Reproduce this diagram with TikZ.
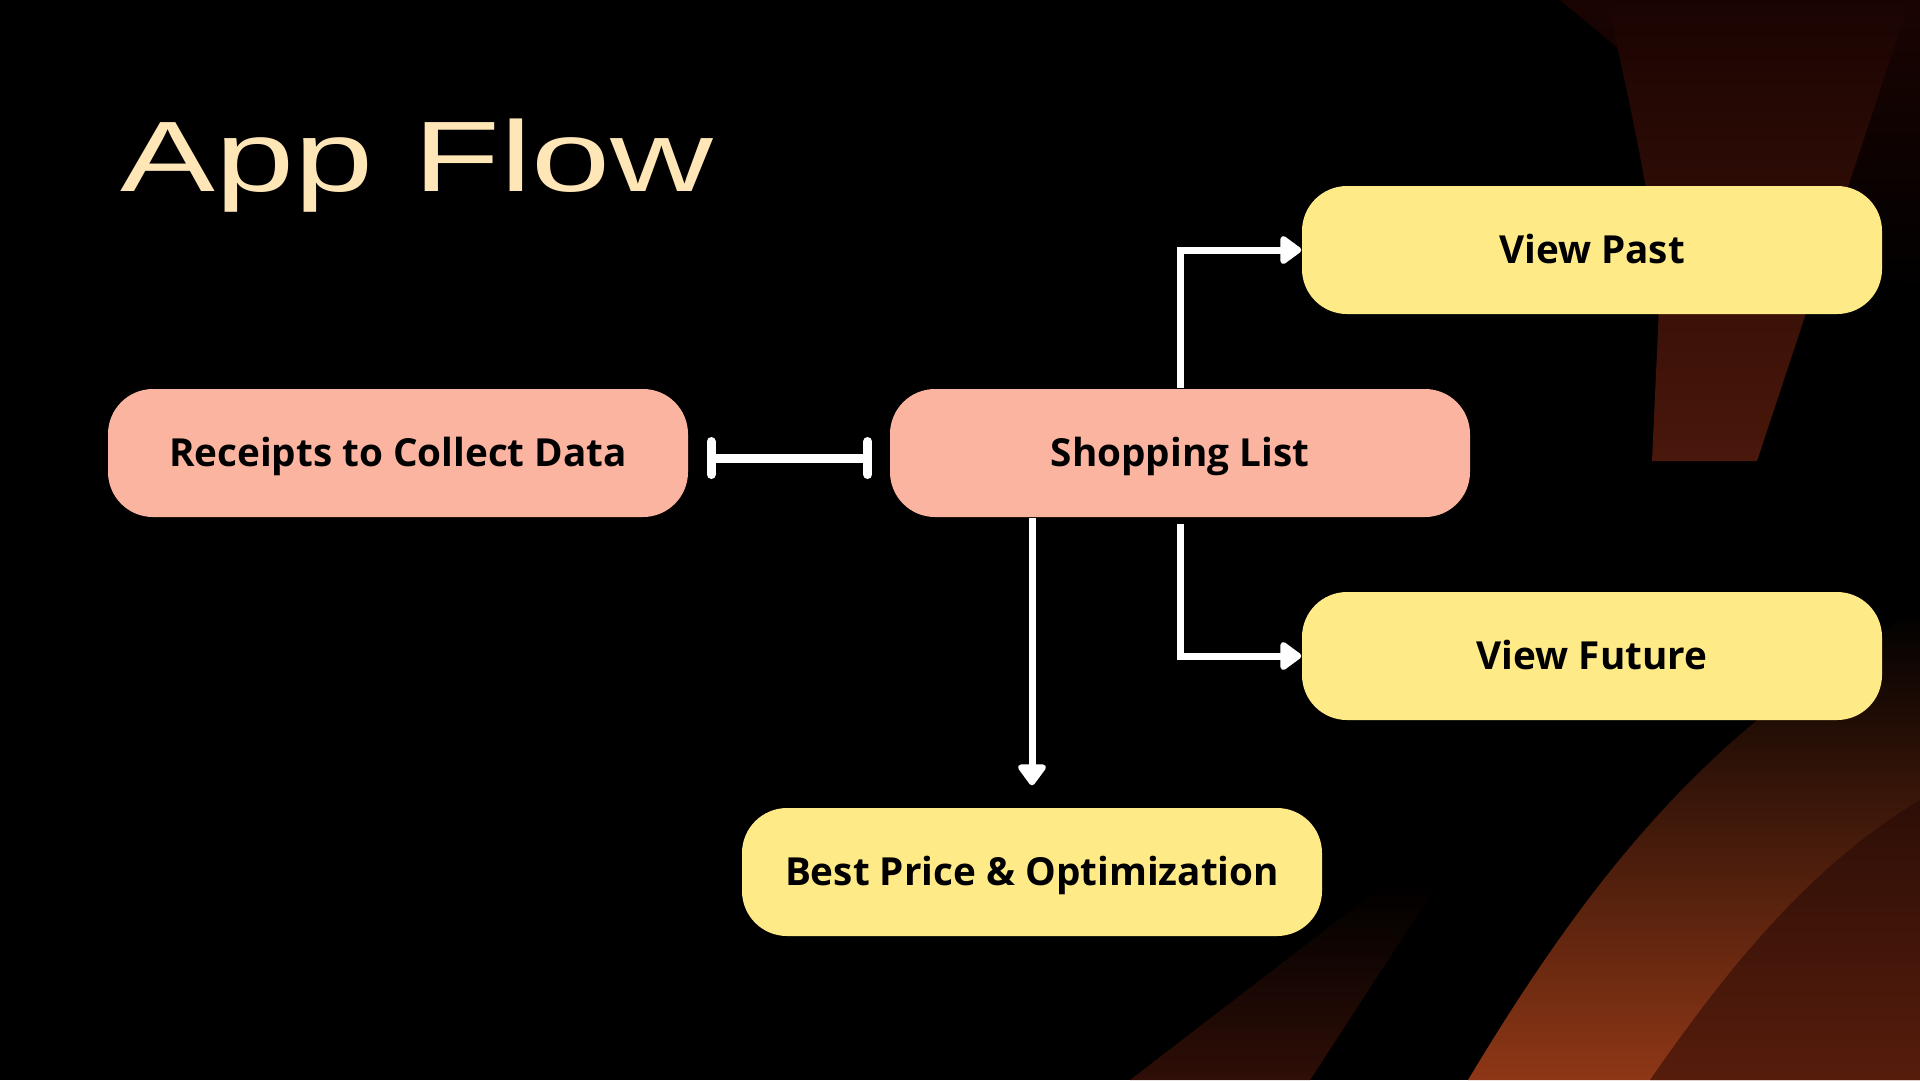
\documentclass[tikz,border=0pt]{standalone}
\usepackage{fontspec}
\setmainfont{Open Sans}
\newfontfamily\titlefont[FakeStretch=1.42]{Liberation Sans}
\usepackage{tikz}
\usetikzlibrary{arrows.meta,calc}

\definecolor{salmon}{HTML}{FBB4A0}
\definecolor{butter}{HTML}{FFEA88}
\definecolor{cream}{HTML}{FFE6B6}
\definecolor{rust}{HTML}{8E3716}
\definecolor{ember}{HTML}{4A170B}
\definecolor{soot}{HTML}{1A0402}

\begin{document}
\begin{tikzpicture}[
    x=0.1mm, y=-0.1mm,
    font=\bfseries\fontsize{11}{13}\selectfont,
    box/.style={rounded corners=4.5mm, minimum width=58mm, minimum height=12.8mm,
                text height=2.7mm, text depth=0mm, inner sep=0pt},
    main/.style={box, fill=salmon},
    side/.style={box, fill=butter},
    flow/.style={draw=white, line width=0.7mm,
                 -{Triangle[length=2.3mm, width=3.2mm, round]}},
    link/.style={draw=white, line width=0.9mm,
                 {Bar[width=3.3mm, round]}-{Bar[width=3.3mm, round]}},
  ]
  \useasboundingbox (0,0) rectangle (1920,1080);
  \fill[black] (0,0) rectangle (1920,1080);

  % background sweeps
  \begin{scope}
    \clip (0,0) rectangle (1920,1080);
    \shade[top color=soot, bottom color=black] (1560,0) -- (1920,0) -- (1920,300) -- cycle;
    \shade[top color=soot, bottom color=ember]
      (1607,0) .. controls (1640,150) and (1662,250) .. (1658,330)
      -- (1652,461) -- (1757,461) -- (1910,0) -- cycle;
    \shade[top color=black, bottom color=ember!80!black, opacity=0.8]
      (1130,1080) -- (1390,880) -- (1440,880) -- (1310,1080) -- cycle;
    \shade[top color=black, bottom color=rust]
      (1468,1080) .. controls (1600,860) and (1720,720) .. (1920,610)
      -- (1920,1080) -- cycle;
    \shade[top color=ember!60!black, bottom color=ember!90!rust, opacity=0.9]
      (1650,1080) .. controls (1740,950) and (1820,860) .. (1920,800)
      -- (1920,1080) -- cycle;
  \end{scope}

  \node[anchor=base west, inner sep=0pt, text=cream,
        font=\titlefont\fontsize{28.5}{30}\selectfont] (title) at (120,191) {App Flow};

  \node[main] (receipts) at (398,453) {Receipts to Collect Data};
  \node[main] (shop) at (1180,453) {Shopping List};
  \node[side] (past) at (1592,250) {View Past};
  \node[side] (future) at (1592,656) {View Future};
  \node[side] (best) at (1032,872) {Best Price \& Optimization};

  % connectors
  \draw[link] ([xshift=1.8mm, yshift=-0.5mm]receipts.east)
    -- ([xshift=-1.7mm, yshift=-0.5mm]shop.west);
  \draw[flow] (shop.north) |- (past.west);
  \draw[flow] ([yshift=-0.6mm]shop.south) |- (future.west);
  \draw[flow] (best.north |- shop.south) -- ([yshift=2.2mm]best.north);
\end{tikzpicture}
\end{document}
